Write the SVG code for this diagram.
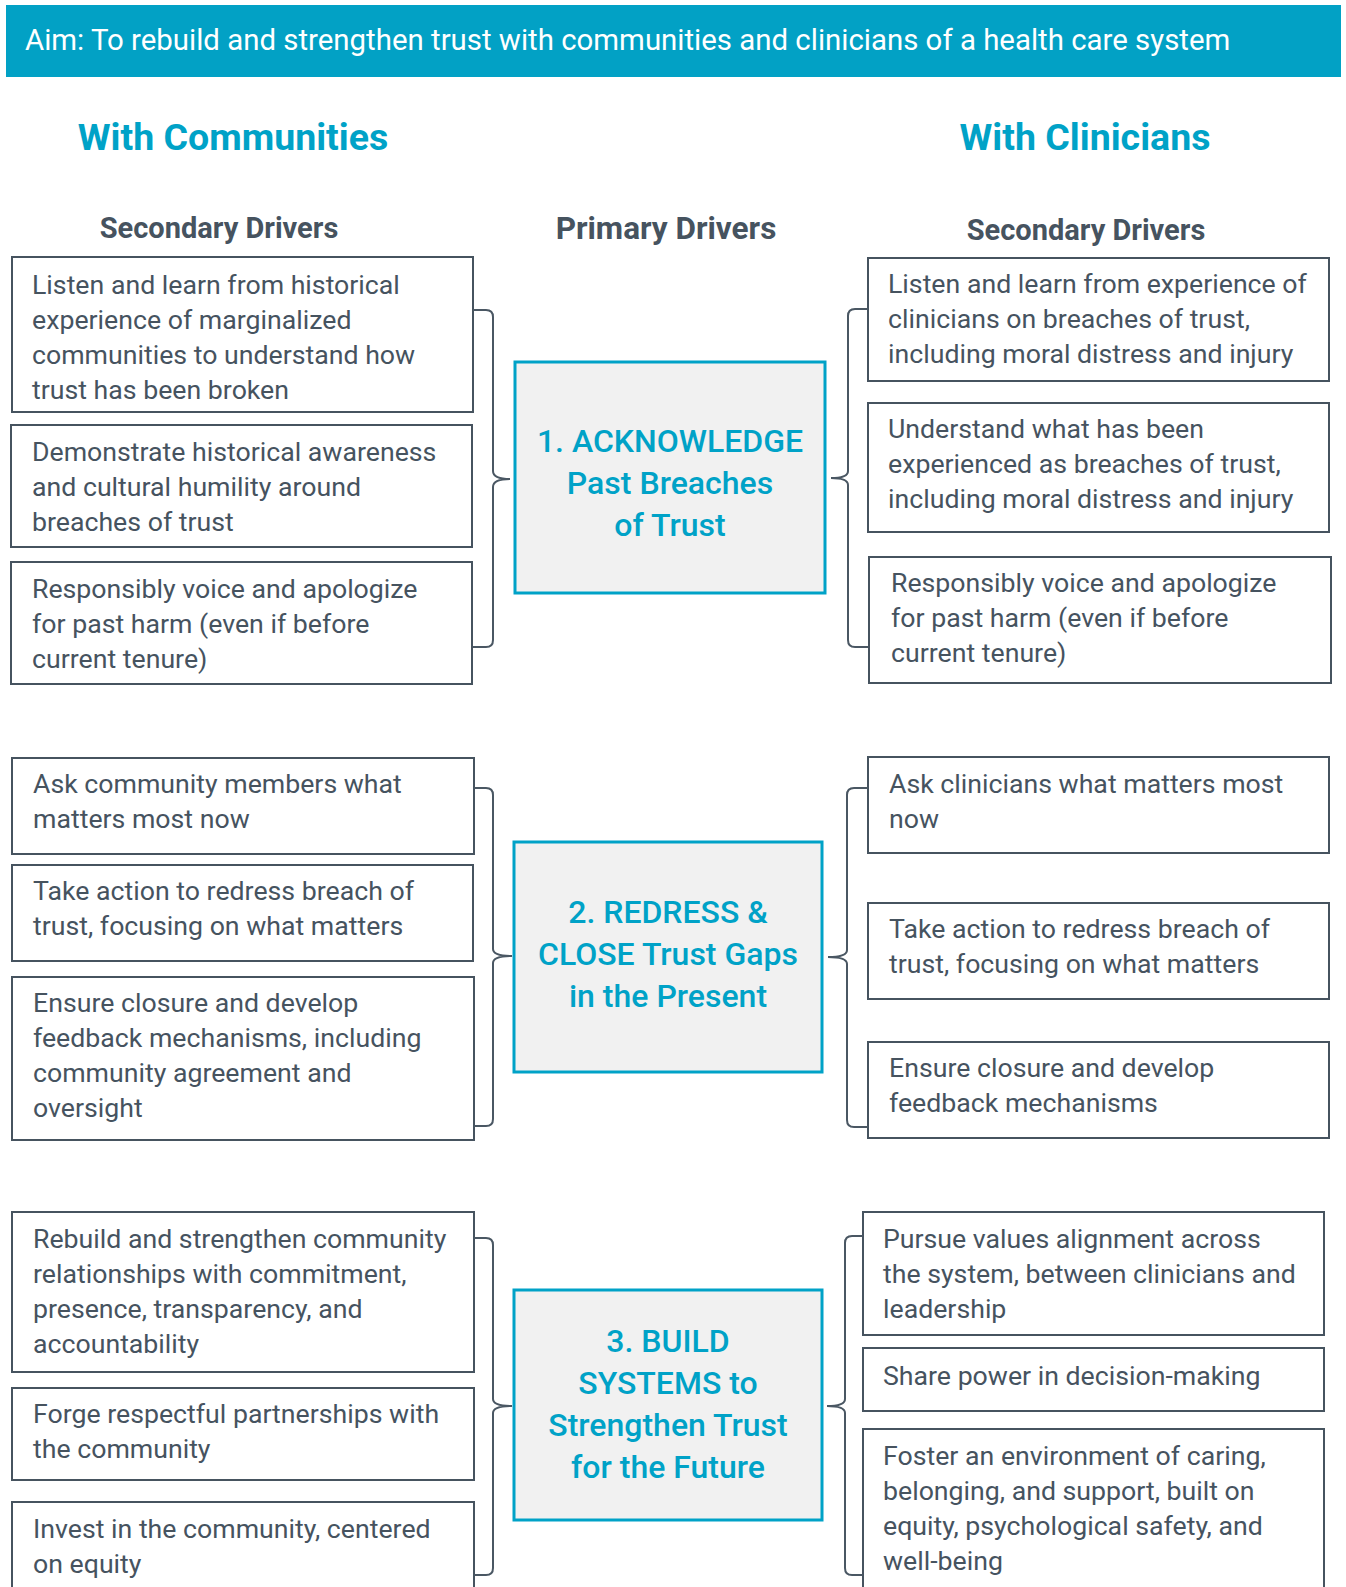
<svg xmlns="http://www.w3.org/2000/svg" width="1346" height="1587" viewBox="0 0 1346 1587">
  <style>
    .aim { font-family: Roboto, "Liberation Sans", sans-serif; font-size: 29.4px; fill: #ffffff; }
    .side { font-family: Roboto, "Liberation Sans", sans-serif; font-size: 37.5px; font-weight: 700; fill: #00a2c7; text-anchor: middle; }
    .col { font-family: Roboto, "Liberation Sans", sans-serif; font-size: 29px; font-weight: 700; fill: #46535f; text-anchor: middle; }
    .col.main { font-size: 31.5px; }
    .sec rect { fill: #ffffff; stroke: #46535f; stroke-width: 2; }
    .sec text { font-family: Roboto, "Liberation Sans", sans-serif; font-size: 26.7px; fill: #46535f; }
    .pri rect { fill: #f1f1f1; stroke: #00a2c7; stroke-width: 3; }
    .pri text { font-family: Roboto, "Liberation Sans", sans-serif; font-size: 32px; font-weight: 500; fill: #00a2c7; text-anchor: middle; }
    .brace { fill: none; stroke: #4a5763; stroke-width: 2; }
  </style>

  <!-- Aim banner -->
  <g id="aim">
    <rect x="6" y="5" width="1335" height="72" fill="#02a1c5"/>
    <text class="aim" x="25" y="50">Aim: To rebuild and strengthen trust with communities and clinicians of a health care system</text>
  </g>

  <!-- Column headings -->
  <g id="headings">
    <text class="side" x="233" y="150">With Communities</text>
    <text class="side" x="1085" y="150">With Clinicians</text>
    <text class="col" x="219" y="238">Secondary Drivers</text>
    <text class="col main" x="666" y="239">Primary Drivers</text>
    <text class="col" x="1086" y="240">Secondary Drivers</text>
  </g>

  <!-- Primary drivers -->
  <g id="primary-1" class="pri">
    <rect x="515" y="362" width="310" height="231"/>
    <text x="670" y="452">1. ACKNOWLEDGE</text>
    <text x="670" y="494">Past Breaches</text>
    <text x="670" y="536">of Trust</text>
  </g>
  <g id="primary-2" class="pri">
    <rect x="514" y="842" width="308" height="230"/>
    <text x="668" y="923">2. REDRESS &amp;</text>
    <text x="668" y="965">CLOSE Trust Gaps</text>
    <text x="668" y="1007">in the Present</text>
  </g>
  <g id="primary-3" class="pri">
    <rect x="514" y="1290" width="308" height="230"/>
    <text x="668" y="1352">3. BUILD</text>
    <text x="668" y="1394">SYSTEMS to</text>
    <text x="668" y="1436">Strengthen Trust</text>
    <text x="668" y="1478">for the Future</text>
  </g>

  <!-- Secondary drivers: communities -->
  <g id="comm-1" class="sec">
    <rect x="12" y="257" width="461" height="155"/>
    <text x="32" y="294">Listen and learn from historical</text>
    <text x="32" y="329">experience of marginalized</text>
    <text x="32" y="364">communities to understand how</text>
    <text x="32" y="399">trust has been broken</text>
  </g>
  <g id="comm-2" class="sec">
    <rect x="11" y="425" width="461" height="122"/>
    <text x="32" y="461">Demonstrate historical awareness</text>
    <text x="32" y="496">and cultural humility around</text>
    <text x="32" y="531">breaches of trust</text>
  </g>
  <g id="comm-3" class="sec">
    <rect x="11" y="562" width="461" height="122"/>
    <text x="32" y="598">Responsibly voice and apologize</text>
    <text x="32" y="633">for past harm (even if before</text>
    <text x="32" y="668">current tenure)</text>
  </g>
  <g id="comm-4" class="sec">
    <rect x="12" y="758" width="462" height="96"/>
    <text x="33" y="793">Ask community members what</text>
    <text x="33" y="828">matters most now</text>
  </g>
  <g id="comm-5" class="sec">
    <rect x="12" y="865" width="461" height="96"/>
    <text x="33" y="900">Take action to redress breach of</text>
    <text x="33" y="935">trust, focusing on what matters</text>
  </g>
  <g id="comm-6" class="sec">
    <rect x="12" y="977" width="462" height="163"/>
    <text x="33" y="1012">Ensure closure and develop</text>
    <text x="33" y="1047">feedback mechanisms, including</text>
    <text x="33" y="1082">community agreement and</text>
    <text x="33" y="1117">oversight</text>
  </g>
  <g id="comm-7" class="sec">
    <rect x="12" y="1212" width="462" height="160"/>
    <text x="33" y="1248">Rebuild and strengthen community</text>
    <text x="33" y="1283">relationships with commitment,</text>
    <text x="33" y="1318">presence, transparency, and</text>
    <text x="33" y="1353">accountability</text>
  </g>
  <g id="comm-8" class="sec">
    <rect x="12" y="1388" width="462" height="92"/>
    <text x="33" y="1423">Forge respectful partnerships with</text>
    <text x="33" y="1458">the community</text>
  </g>
  <g id="comm-9" class="sec">
    <rect x="12" y="1502" width="462" height="110"/>
    <text x="33" y="1538">Invest in the community, centered</text>
    <text x="33" y="1573">on equity</text>
  </g>

  <!-- Secondary drivers: clinicians -->
  <g id="clin-1" class="sec">
    <rect x="868" y="258" width="461" height="123"/>
    <text x="888" y="293">Listen and learn from experience of</text>
    <text x="888" y="328">clinicians on breaches of trust,</text>
    <text x="888" y="363">including moral distress and injury</text>
  </g>
  <g id="clin-2" class="sec">
    <rect x="868" y="403" width="461" height="129"/>
    <text x="888" y="438">Understand what has been</text>
    <text x="888" y="473">experienced as breaches of trust,</text>
    <text x="888" y="508">including moral distress and injury</text>
  </g>
  <g id="clin-3" class="sec">
    <rect x="869" y="557" width="462" height="126"/>
    <text x="891" y="592">Responsibly voice and apologize</text>
    <text x="891" y="627">for past harm (even if before</text>
    <text x="891" y="662">current tenure)</text>
  </g>
  <g id="clin-4" class="sec">
    <rect x="868" y="757" width="461" height="96"/>
    <text x="889" y="793">Ask clinicians what matters most</text>
    <text x="889" y="828">now</text>
  </g>
  <g id="clin-5" class="sec">
    <rect x="868" y="903" width="461" height="96"/>
    <text x="889" y="938">Take action to redress breach of</text>
    <text x="889" y="973">trust, focusing on what matters</text>
  </g>
  <g id="clin-6" class="sec">
    <rect x="868" y="1042" width="461" height="96"/>
    <text x="889" y="1077">Ensure closure and develop</text>
    <text x="889" y="1112">feedback mechanisms</text>
  </g>
  <g id="clin-7" class="sec">
    <rect x="863" y="1212" width="461" height="123"/>
    <text x="883" y="1248">Pursue values alignment across</text>
    <text x="883" y="1283">the system, between clinicians and</text>
    <text x="883" y="1318">leadership</text>
  </g>
  <g id="clin-8" class="sec">
    <rect x="863" y="1348" width="461" height="63"/>
    <text x="883" y="1385">Share power in decision-making</text>
  </g>
  <g id="clin-9" class="sec">
    <rect x="863" y="1429" width="461" height="180"/>
    <text x="883" y="1465">Foster an environment of caring,</text>
    <text x="883" y="1500">belonging, and support, built on</text>
    <text x="883" y="1535">equity, psychological safety, and</text>
    <text x="883" y="1570">well-being</text>
  </g>

  <!-- Curly-brace connectors between secondary and primary drivers -->
  <g id="connectors" class="brace">
    <path d="M473,310 H486 Q493,310 493,317 V471 Q493,479 510,479 Q493,479 493,487 V640 Q493,647 486,647 H473"/>
    <path d="M868,309 H855 Q848,309 848,316 V471 Q848,478 831,478 Q848,478 848,485 V640 Q848,647 855,647 H868"/>
    <path d="M474,788 H486 Q493,788 493,795 V949 Q493,956 512,956 Q493,956 493,963 V1119 Q493,1126 486,1126 H474"/>
    <path d="M868,788 H854 Q847,788 847,795 V950 Q847,957 828,957 Q847,957 847,964 V1120 Q847,1127 854,1127 H868"/>
    <path d="M474,1238 H486 Q493,1238 493,1245 V1399 Q493,1406 512,1406 Q493,1406 493,1413 V1568 Q493,1575 486,1575 H474"/>
    <path d="M863,1236 H852 Q845,1236 845,1243 V1399 Q845,1406 827,1406 Q845,1406 845,1413 V1568 Q845,1575 852,1575 H863"/>
  </g>
</svg>
